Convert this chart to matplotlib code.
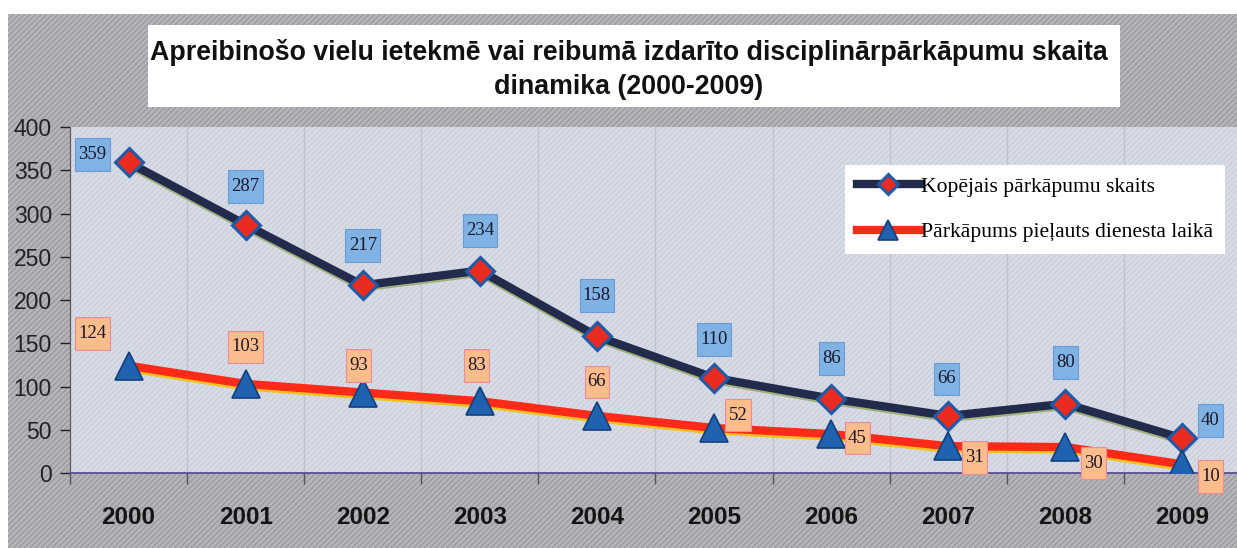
import matplotlib
matplotlib.use("Agg")
import matplotlib.pyplot as plt
import matplotlib.patheffects as pe
from matplotlib.patches import Rectangle
from matplotlib.path import Path
from matplotlib.lines import Line2D

gadi = ["2000", "2001", "2002", "2003", "2004", "2005", "2006", "2007", "2008", "2009"]
kopejais = [359, 287, 217, 234, 158, 110, 86, 66, 80, 40]
dienesta = [124, 103, 93, 83, 66, 52, 45, 31, 30, 10]

nosaukums = ("Apreibinošo vielu ietekmē vai reibumā izdarīto disciplinārpārkāpumu skaita\n"
             "dinamika (2000-2009)")
leg_kop = "Kopējais pārkāpumu skaits"
leg_dien = "Pārkāpums pieļauts dienesta laikā"

# label offsets in pixels (dx, dy)
off_kop = [(-36, 8), (0, 38), (0, 40), (0, 40), (0, 41), (0, 38), (0, 40), (-2, 37), (0, 41), (28, 18)]
off_dien = [(-36, 32), (0, 37), (-4, 27), (-3, 36), (0, 34), (24, 13), (26, -4), (26, -11), (28, -16), (28, -12)]


def kaste(x0, y0, width, height, mutation_size):
    # rectangle with small side padding and taller top/bottom padding
    px = 0.17 * mutation_size
    py = 0.42 * mutation_size
    x0, x1 = x0 - px, x0 + width + px
    y0, y1 = y0 - py, y0 + height + py
    return Path([(x0, y0), (x1, y0), (x1, y1), (x0, y1), (x0, y0)], closed=True)


plt.rcParams["hatch.linewidth"] = 0.7
fig = plt.figure(figsize=(12.37, 5.48), dpi=100)
fig.patch.set_facecolor("white")

# grey hatched chart area
fig.patches.append(Rectangle((8 / 1237, 0), 1.0, 1 - 14 / 548, transform=fig.transFigure,
                             facecolor="#b4b4b9", edgecolor="#919198", hatch="//////",
                             linewidth=0, zorder=-2))
# title box
fig.patches.append(Rectangle((148 / 1237, 1 - 107 / 548), 972 / 1237, 82 / 548,
                             transform=fig.transFigure, facecolor="white",
                             edgecolor="none", zorder=-1))
fig.text(0.5085, 1 - 69 / 548, nosaukums, ha="center", va="center", fontsize=19.3,
         fontweight="bold", family="Liberation Sans", color="#111111", linespacing=1.4)

ax = fig.add_axes([70 / 1237, 75 / 548, 1171 / 1237, 346 / 548])
ax.set_zorder(2)
ax.set_facecolor("#d7dbe5")
ax.add_patch(Rectangle((0, 0), 1, 1, transform=ax.transAxes, facecolor="none",
                       edgecolor="#c8ccd8", hatch="//////", linewidth=0, zorder=0))

x = list(range(len(gadi)))
kop_stils = dict(color="#232b4d", linewidth=6, marker="D", markersize=14,
                 markerfacecolor="#ea2b1f", markeredgecolor="#1f5aa6", markeredgewidth=2.2)
dien_stils = dict(color="#ff2a18", linewidth=6, marker="^", markersize=20,
                  markerfacecolor="#1e62b0", markeredgecolor="#14407a", markeredgewidth=1.2)

# lines with a thin coloured shadow under them, markers on top
ax.plot(x, kopejais, color=kop_stils["color"], linewidth=6, zorder=4,
        path_effects=[pe.SimpleLineShadow(offset=(0, -1.5), shadow_color="#9fb07a", alpha=1), pe.Normal()])
ax.plot(x, dienesta, color=dien_stils["color"], linewidth=6, zorder=3,
        path_effects=[pe.SimpleLineShadow(offset=(0, -1.8), shadow_color="#f2c21c", alpha=1), pe.Normal()])
ax.plot(x, kopejais, linestyle="none", zorder=5,
        **{k: v for k, v in kop_stils.items() if k not in ("color", "linewidth")})
ax.plot(x, dienesta, linestyle="none", zorder=5,
        **{k: v for k, v in dien_stils.items() if k not in ("color", "linewidth")})

for i in x:
    ax.annotate(str(kopejais[i]), (i, kopejais[i]), xytext=off_kop[i], textcoords="offset pixels",
                ha="center", va="center", fontsize=13.5, family="Liberation Serif", color="#1a1a2a",
                bbox=dict(boxstyle=kaste, facecolor="#80b2e4", edgecolor="#6a9dd8",
                          linewidth=0.8), zorder=6)
    ax.annotate(str(dienesta[i]), (i, dienesta[i]), xytext=off_dien[i], textcoords="offset pixels",
                ha="center", va="center", fontsize=13.5, family="Liberation Serif", color="#1a1a2a",
                bbox=dict(boxstyle=kaste, facecolor="#fcbc8c", edgecolor="#f08a9a",
                          linewidth=0.8), zorder=6)

ax.set_xlim(-0.5, len(gadi) - 0.5)
ax.set_ylim(0, 400)
ax.set_yticks(range(0, 401, 50))
ax.tick_params(axis="y", labelsize=16.5, colors="#222222", length=7, width=1, direction="out", pad=6)
for t in ax.get_yticklabels():
    t.set_family("Liberation Sans")

ax.set_xticks(x)
ax.set_xticklabels(gadi, fontsize=17.5, fontweight="bold", family="Liberation Sans", color="#151515")
ax.tick_params(axis="x", length=0, pad=24)
ax.set_xticks([i + 0.5 for i in x[:-1]] + [-0.5], minor=True)
ax.tick_params(axis="x", which="minor", length=8, width=1, direction="out", color="#555555")
ax.grid(axis="x", which="minor", color="#bfc3cf", linewidth=1)
ax.set_axisbelow(True)

for s in ["top", "right"]:
    ax.spines[s].set_visible(False)
ax.spines["left"].set_color("#555555")
ax.spines["bottom"].set_color("#5a4e90")
ax.spines["bottom"].set_linewidth(1.3)

h_kop = Line2D([], [], **kop_stils)
h_dien = Line2D([], [], **dien_stils)
leg = ax.legend([h_kop, h_dien], [leg_kop, leg_dien], loc="upper right",
                bbox_to_anchor=(1225 / 1237, 1 - 165 / 548),
                bbox_transform=fig.transFigure, borderaxespad=0, frameon=True, fancybox=False,
                prop={"family": "Liberation Serif", "size": 15.6}, handlelength=2.9,
                handletextpad=0.05, labelspacing=1.15, borderpad=0.55, markerscale=0.7)
leg.get_frame().set_facecolor("white")
leg.get_frame().set_edgecolor("none")
leg.get_frame().set_alpha(1)
leg.set_zorder(10)

fig.savefig("out.png", dpi=100)
